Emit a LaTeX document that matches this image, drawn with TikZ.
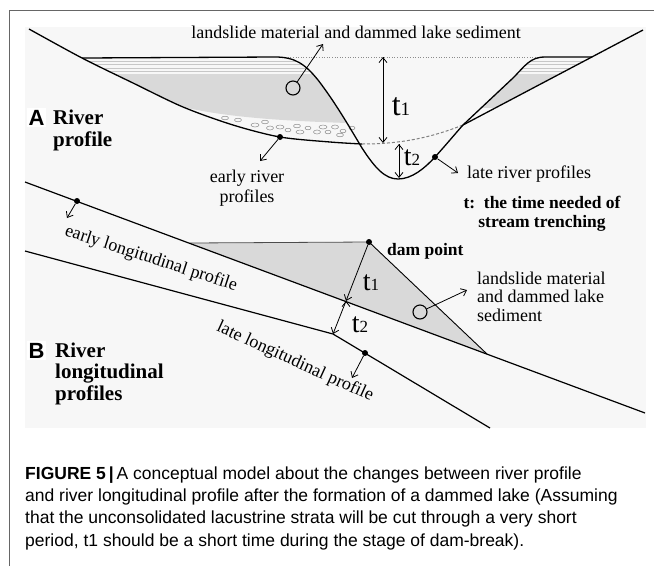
\documentclass[tikz,border=0pt]{standalone}
\usepackage{amsmath}
\usepackage{fontspec}
\setmainfont{Liberation Serif}
\newfontfamily\capsans{Liberation Sans}
\usetikzlibrary{positioning,arrows.meta}

\begin{document}
\begin{tikzpicture}[x=1pt, y=-1pt,
	dot/.style={circle, fill=black, inner sep=0pt, minimum size=6pt},
	ring/.style={circle, draw=black, line width=1.1pt, inner sep=0pt, minimum size=14pt},
	lbl/.style={inner sep=0pt, font=\fontsize{18}{19.5}\selectfont},
	blbl/.style={inner sep=0pt, font=\bfseries\fontsize{17.5}{19}\selectfont},
	head/.style={inner sep=0pt, font=\bfseries\fontsize{21}{21.5}\selectfont, align=left, anchor=base west},
	panel/.style={inner sep=1.5pt, fill=white, font=\capsans\bfseries\fontsize{22}{22}\selectfont, anchor=base west},
	tl/.style={inner sep=0pt, font=\fontsize{28}{28}\selectfont},
	prof/.style={draw=black, line width=1.3pt},
	arr/.style={draw=black, line width=0.8pt, -{Straight Barb[length=5pt, width=8pt]}},
	layer/.style={draw=black!22, line width=0.5pt},
	pebble/.style={draw=black!45, line width=0.5pt}]
			\useasboundingbox (0,0) rectangle (654,566);
			\draw[black!60, line width=0.9pt] (9,566) -- (9,10) -- (654,10);
			\fill[black!3] (25,27) rectangle (646,428);
			
			\begin{scope}
			\clip (82,58) -- (275,57) .. controls (295,57) and (305,64) .. (318,80) .. controls (335,102) and (350,128) .. (362,148) -- plot[smooth] coordinates {(362,144) (330,142) (280,137) (233,125) (183,107) (133,83) (82,58)} -- cycle;
			\fill[black!15] (0,74) -- (654,74) -- (654,124) -- (347,123) .. controls (290,121) and (230,118) .. (183,107) -- (0,107) -- cycle;
			\draw[layer] (0,61) -- (654,61) (0,64.5) -- (654,64.5) (0,68) -- (654,68) (0,71.5) -- (654,71.5);
			\end{scope}
			\begin{scope}
			\clip (463,125) -- (513,78) .. controls (525,66) and (530,57) .. (545,57) -- (592,57) -- cycle;
			\fill[black!15] (0,74) rectangle (654,108);
			\draw[layer] (0,61) -- (654,61) (0,64.5) -- (654,64.5) (0,68) -- (654,68) (0,71.5) -- (654,71.5);
			\end{scope}
			\draw[pebble] (225,118) ellipse (3.5pt and 1.8pt) (238,120) ellipse (3.5pt and 1.8pt)
				(255,125) ellipse (4pt and 2pt) (265,122) ellipse (3.5pt and 1.8pt)
				(270,128) ellipse (3.5pt and 2pt) (280,127) ellipse (4pt and 2pt)
				(288,130) ellipse (3pt and 1.8pt) (297,126) ellipse (3.5pt and 1.8pt)
				(300,132) ellipse (4pt and 2pt) (308,128) ellipse (3pt and 1.8pt)
				(317,132) ellipse (3.5pt and 2pt) (323,127) ellipse (4pt and 2pt)
				(328,132) ellipse (3pt and 1.8pt) (335,127) ellipse (3.5pt and 2pt)
				(343,131) ellipse (3pt and 1.8pt) (352,128) ellipse (3pt and 1.8pt)
				(340,135) ellipse (3.5pt and 1.8pt);
			
			\draw[black!45, line width=0.6pt, dotted] (280,57) -- (545,57);
			\draw[black!50, line width=1pt, dash pattern=on 3pt off 2pt] (362,144) .. controls (400,144) and (430,138) .. (463,125);
			\draw[prof] plot[smooth] coordinates {(29,29) (82,58) (133,83) (183,107) (233,125) (280,137) (330,142) (362,144)};
			\draw[prof] (82,58) -- (275,57) .. controls (295,57) and (305,64) .. (318,80) .. controls (335,102) and (350,128) .. (362,148) .. controls (375,168) and (385,179) .. (398,179) .. controls (412,179) and (425,168) .. (435,157) .. controls (445,146) and (455,134) .. (463,125) -- (513,78) .. controls (525,66) and (530,57) .. (545,57) -- (592,57);
			\draw[prof] (463,125) -- (643,30);
			
			\node[ring] (c1) at (293,88){};
			\coordinate (c1e) at (323,44);
			\node[dot] (d1) at (280,137){};
			\coordinate (d1e) at (260,161);
			\node[dot] (d2) at (435,157){};
			\coordinate (d2e) at (458,173);
			\coordinate (t1s) at (383,57);
			\coordinate (t1e) at (383,143);
			\coordinate (t2s) at (399,144);
			\coordinate (t2e) at (399,178);
			\path[arr] (c1) edge (c1e);
			\path[arr] (d1) edge (d1e);
			\path[arr] (d2) edge (d2e);
			\path[arr] (t1s) edge (t1e);
			\path[arr] (t2s) edge (t2e);
			
			\node[lbl, anchor=base] (f1) at (356,38){landslide material and dammed lake sediment};
			\node[lbl, anchor=base, align=center] (f2) at (247,202){early river\\profiles};
			\node[lbl, anchor=base west] (f3) at (467,178){late river profiles};
			\node[blbl, anchor=base, align=center] (f4) at (542,227){t:\ \ the time needed of\\stream trenching};
			\node[tl, font=\fontsize{32}{32}\selectfont] (f5) at (401,107){t{\fontsize{19}{19}\selectfont 1}};
			\node[tl] (f6) at (412,158){t{\fontsize{17}{17}\selectfont 2}};
			\node[panel] (pa) at (27,125){A};
			\node[head] (ha) at (53,146){River\\profile};
			
			\fill[black!15] (190,243) -- (369,242) -- (487,354) -- cycle;
			\draw[black!70, line width=0.8pt] (190,243) -- (369,242);
			\draw[black, line width=0.9pt] (369,242) -- (487,354);
			\draw[prof, line width=1.2pt] (25,182) -- (645,413);
			\draw[prof, line width=1.2pt] (25,251) -- (333,334) -- (490,428);
			
			\node[dot] (d3) at (369,242){};
			\coordinate (k1) at (346,301);
			\coordinate (k2) at (333,334);
			\node[ring] (c2) at (420,312){};
			\coordinate (c2e) at (467,290);
			\node[dot] (d4) at (77,201){};
			\coordinate (d4e) at (67,218);
			\node[dot] (d5) at (365,353){};
			\coordinate (d5e) at (352,378);
			\path[arr] (d3) edge (k1);
			\path[arr] (k1) edge (k2);
			\path[arr] (c2) edge (c2e);
			\path[arr] (d4) edge (d4e);
			\path[arr] (d5) edge (d5e);
			
			\node[blbl, anchor=base west] (g1) at (387,255){dam point};
			\node[lbl, anchor=base west, align=left, font=\fontsize{18}{18.5}\selectfont] (g2) at (477,321){landslide material\\and dammed lake\\sediment};
			\node[tl] (g3) at (371,283){t{\fontsize{17}{17}\selectfont 1}};
			\node[tl] (g4) at (360,325){t{\fontsize{17}{17}\selectfont 2}};
			\node[lbl, rotate=-18] (g5) at (151,259){early longitudinal profile};
			\node[lbl, rotate=-24.5] (g6) at (295,362){late\ longitudinal\ profile};
			\node[panel] (pb) at (27,358){B};
			\node[head] (hb) at (55,400){River\\longitudinal\\profiles};
			
			\node[inner sep=0pt, anchor=base west, align=left, font=\capsans\fontsize{17.5}{22.2}\selectfont] (cap) at (25,546){\textbf{FIGURE 5\,|}\,A conceptual model about the changes between river profile\\and river longitudinal profile after the formation of a dammed lake (Assuming\\that the unconsolidated lacustrine strata will be cut through a very short\\period, t1 should be a short time during the stage of dam-break).};
			\end{tikzpicture}
\end{document}
